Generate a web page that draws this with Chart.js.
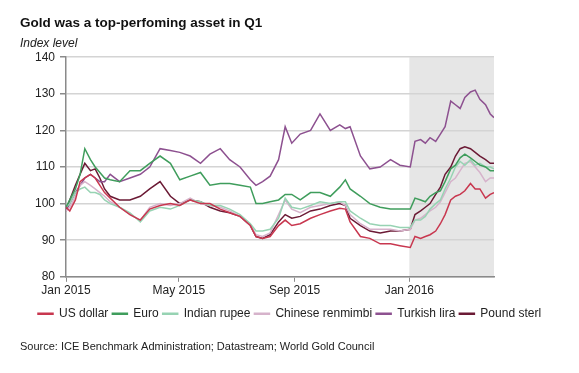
<!DOCTYPE html>
<html>
<head>
<meta charset="utf-8">
<script src="https://cdn.jsdelivr.net/npm/chart.js@4.4.1/dist/chart.umd.min.js"></script>
<style>
  html, body { margin: 0; padding: 0; background: #fff; }
  #wrap { width: 579px; height: 373px; }
</style>
</head>
<body>
<div id="wrap"><canvas id="chart" width="579" height="373"></canvas></div>
<script>
// days since 1 Jan 2015
const days = [0,4,10,15,20,26,31,36,41,47,57,68,79,89,100,111,121,132,143,153,164,174,185,196,202,209,217,226,233,240,249,260,270,281,291,297,302,313,323,334,345,355,366,371,377,382,387,393,398,403,409,414,419,424,430,435,440,446,451,455];

const usDollar = [99,98,101,106,107,108,107,105,103,101.5,99,97,95.5,98.5,99.5,100,99.5,101,100,100,98.5,97.5,96.5,94,91,90.5,91,94,95.5,94,94.5,96,97,98,98.7,98.5,95,91,90.5,89,89,88.5,88,91,90.5,91,91.5,92.5,94.5,97,101,102,102.5,103.5,105.5,104,104,101.5,102.5,103];
const euro = [99,101,104,108,115,112,110,108.5,107,106.5,106,109,109,111,113,111,106.5,107.5,108.5,105,105.5,105.5,105,104.5,100,100,100.5,101,102.5,102.5,101,103,103,102,104.5,106.5,104,102,100,99,98.5,98.5,98.5,101.5,101,100.5,102,103,103.5,106,109.5,110.5,112.5,113.5,112.5,111.5,110.5,110,109,109];
const indianRupee = [99,100,103,104,104.5,103,103,102.5,101,100,99,97.5,95,98,99,98.5,99.5,101,100.5,99.5,99.5,98.5,97,94.5,92.5,92.5,93,96,101.5,99,98.5,99.5,100.5,100,100.5,100.5,98,96,94.5,94,94,93.5,93.5,95.5,95.5,96.5,98.5,100,101,104,107,110,111.5,110.5,112,110.5,111,110,110,109.5];
const chineseRenmimbi = [98,99,102,105,106,105,104,103,102,100.5,99,97,95.5,99,100,99.5,100,101.5,100,99.5,99,98,96.5,94,91.5,91,92,97,101,98.5,97.5,99,99.5,100,100.5,99.5,97,94.5,93,93,93,92.5,93,95.5,96,97,98,99,100.5,103,106,107,109,111,111.5,110,108.5,106,107,107];
const turkishLira = [98,100,103,105,107,108,107,106,106,108,106,107,108,110,115,114.5,114,113,111,113.5,115,112,110,106.5,105,106,107.5,112,121,116.5,119,120,124.5,120,121.5,120.5,121,113,109.5,110,112,110.5,110,117,117.5,116.5,118,117,119,121,128,127,126,129,130.5,131,128.5,127,124.5,123.5];
const poundSterl = [98,101,105,108,111,109,109.5,107,104,102,101,101,102,104,106,102,100,101,100.5,99,98,97.5,96.5,94,91,90.5,91.5,95,97,96,96.5,98,98.5,99.5,100,99.5,96,94,92.5,92,92.5,92.5,93,97,98,99,100,102.5,104.5,108,110,113,115,115.5,115,114,113,112,111,111];

const seriesNames = ['US dollar', 'Euro', 'Indian rupee', 'Chinese renmimbi', 'Turkish lira', 'Pound sterl'];
const seriesColors = ['#c8374f', '#3f9d5c', '#97d3b3', '#d6b3cb', '#8d5190', '#6b1a35'];
const seriesValues = [usDollar, euro, indianRupee, chineseRenmimbi, turkishLira, poundSterl];

const tickDays = [0, 120, 243, 365];
const tickLabels = ['Jan 2015', 'May 2015', 'Sep 2015', 'Jan 2016'];
const q1Start = 365;

const datasets = seriesNames.map((name, i) => ({
  label: name,
  data: days.map((d, j) => ({ x: d, y: seriesValues[i][j] })),
  borderColor: seriesColors[i],
  backgroundColor: seriesColors[i],
  borderWidth: 1.5,
  pointRadius: 0,
  tension: 0
}));

const extras = {
  id: 'extras',
  beforeDraw(chart) {
    // legend row starts a little right of the title, like the original
    chart.legend.left = 34;
    const c = chart.ctx, a = chart.chartArea;
    const x0 = chart.scales.x.getPixelForValue(q1Start);
    c.save();
    c.fillStyle = '#e6e6e6';
    c.fillRect(x0, a.top, a.right - x0, a.bottom - a.top);
    c.restore();
  },
  afterDraw(chart) {
    const c = chart.ctx;
    c.save();
    c.font = 'italic 12px "Liberation Sans", Arial, sans-serif';
    c.fillStyle = '#222';
    c.textBaseline = 'middle';
    c.fillText('Index level', 20, 44);
    c.restore();
  }
};

Chart.defaults.font.family = '"Liberation Sans", Arial, sans-serif';
Chart.defaults.color = '#222';

new Chart(document.getElementById('chart'), {
  type: 'line',
  data: { datasets: datasets },
  plugins: [extras],
  options: {
    responsive: false,
    animation: false,
    layout: { padding: { left: 20, right: 0, top: 0, bottom: 0 } },
    plugins: {
      title: {
        display: true,
        text: 'Gold was a top-perfoming asset in Q1',
        align: 'start',
        color: '#111',
        font: { size: 13.5, weight: 'bold' },
        padding: { top: 15, bottom: 26 }
      },
      subtitle: {
        display: true,
        position: 'bottom',
        text: 'Source: ICE Benchmark Administration; Datastream; World Gold Council',
        align: 'start',
        color: '#222',
        font: { size: 11 },
        padding: { top: 11, bottom: 19 }
      },
      legend: {
        position: 'bottom',
        align: 'start',
        labels: {
          boxWidth: 15,
          boxHeight: 1,
          padding: 4,
          font: { size: 12 },
          color: '#222'
        }
      },
      tooltip: { enabled: false }
    },
    scales: {
      x: {
        type: 'linear',
        min: 0,
        max: 455,
        afterBuildTicks: s => { s.ticks = tickDays.map(v => ({ value: v })); },
        afterFit: s => { s.height = 27; },
        ticks: {
          autoSkip: false,
          maxRotation: 0,
          padding: 2,
          font: { size: 12 },
          callback: v => tickLabels[tickDays.indexOf(v)]
        },
        grid: { drawOnChartArea: false, drawTicks: true, tickLength: 5, color: '#8a8a8a' },
        border: { color: '#8a8a8a', width: 1.5 }
      },
      y: {
        min: 80,
        max: 140,
        afterFit: s => { s.width = 46; },
        ticks: { stepSize: 10, padding: 5, font: { size: 12 } },
        grid: { color: '#d4d4d4', lineWidth: 1.5, tickLength: 6, tickColor: '#8a8a8a' },
        border: { color: '#8a8a8a', width: 1.5 }
      },
      // empty spacer on the right so the plot ends where the original does
      yRight: {
        position: 'right',
        min: 80,
        max: 140,
        afterFit: s => { s.width = 85; },
        ticks: { display: false },
        grid: { display: false },
        border: { display: false }
      }
    }
  }
});
</script>
</body>
</html>
